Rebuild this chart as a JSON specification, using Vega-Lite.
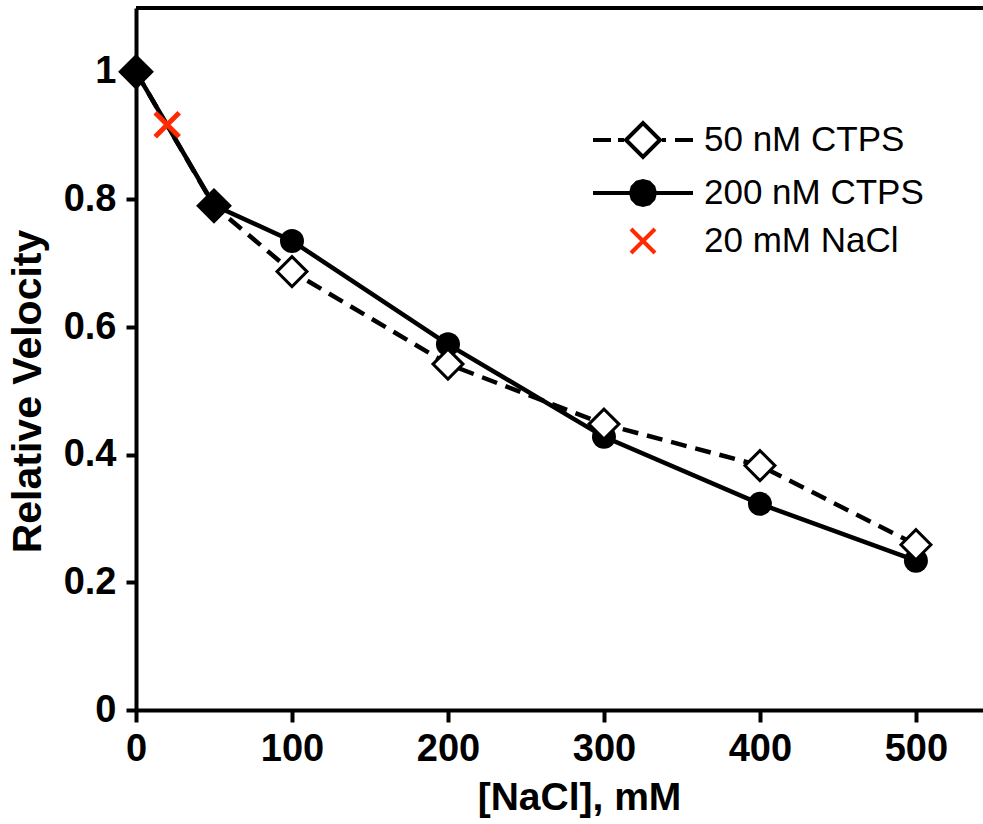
{
  "$schema": "https://vega.github.io/schema/vega-lite/v6.json",
  "width": 847,
  "height": 702,
  "autosize": {"type": "none"},
  "padding": {"left": 136, "top": 8, "right": 0, "bottom": 114},
  "background": "white",
  "config": {
    "view": {"stroke": null},
    "font": "Liberation Sans",
    "axis": {
      "grid": false,
      "domainColor": "black",
      "domainWidth": 4,
      "tickColor": "black",
      "tickWidth": 4,
      "labelFont": "Liberation Sans",
      "labelFontWeight": "bold",
      "labelFontSize": 38,
      "labelColor": "black",
      "titleFont": "Liberation Sans",
      "titleFontWeight": "bold",
      "titleFontSize": 39,
      "titleColor": "black"
    },
    "legend": {
      "orient": "none",
      "legendX": 485,
      "legendY": 110,
      "labelFont": "Liberation Sans",
      "labelFontSize": 35,
      "labelColor": "black",
      "labelLimit": 400,
      "symbolSize": 1600,
      "symbolStrokeWidth": 4,
      "labelOffset": 39,
      "rowPadding": 6
    }
  },
  "data": {
    "values": [
      {"series": "50 nM CTPS", "nacl": 0, "v": 1.0},
      {"series": "50 nM CTPS", "nacl": 50, "v": 0.79},
      {"series": "50 nM CTPS", "nacl": 100, "v": 0.687},
      {"series": "50 nM CTPS", "nacl": 200, "v": 0.542},
      {"series": "50 nM CTPS", "nacl": 300, "v": 0.448},
      {"series": "50 nM CTPS", "nacl": 400, "v": 0.383},
      {"series": "50 nM CTPS", "nacl": 500, "v": 0.259},
      {"series": "200 nM CTPS", "nacl": 0, "v": 1.0},
      {"series": "200 nM CTPS", "nacl": 50, "v": 0.791},
      {"series": "200 nM CTPS", "nacl": 100, "v": 0.735},
      {"series": "200 nM CTPS", "nacl": 200, "v": 0.573},
      {"series": "200 nM CTPS", "nacl": 300, "v": 0.428},
      {"series": "200 nM CTPS", "nacl": 400, "v": 0.323},
      {"series": "200 nM CTPS", "nacl": 500, "v": 0.234},
      {"series": "20 mM NaCl", "nacl": 20, "v": 0.917}
    ]
  },
  "encoding": {
    "x": {
      "field": "nacl", "type": "quantitative",
      "scale": {"domain": [0, 543], "nice": false},
      "axis": {"values": [0, 100, 200, 300, 400, 500], "tickSize": 12, "labelPadding": 8, "titlePadding": 10, "title": "[NaCl], mM", "labelFlush": false, "titleX": 443}
    },
    "y": {
      "field": "v", "type": "quantitative",
      "scale": {"domain": [0, 1.1], "nice": false},
      "axis": {"values": [0, 0.2, 0.4, 0.6, 0.8, 1], "format": ".1~f", "tickSize": 10, "labelPadding": 10, "title": "Relative Velocity", "titleFontSize": 41, "titlePadding": 14, "titleY": 383, "labelFlush": false}
    }
  },
  "layer": [
    {
      "mark": {"type": "rule", "color": "black", "strokeWidth": 4},
      "encoding": {"x": {"datum": 0}, "x2": {"datum": 543}, "y": {"datum": 1.1}}
    },
    {
      "transform": [{"filter": "datum.series == '50 nM CTPS'"}],
      "mark": {"type": "line", "color": "black", "strokeWidth": 4.5, "strokeDash": [16, 9]}
    },
    {
      "transform": [{"filter": "datum.series == '200 nM CTPS'"}],
      "mark": {"type": "line", "color": "black", "strokeWidth": 4.5}
    },
    {
      "transform": [{"filter": "datum.series == '200 nM CTPS' && datum.nacl > 50"}],
      "mark": {"type": "point", "shape": "circle", "filled": true, "color": "black", "size": 576, "opacity": 1}
    },
    {
      "transform": [{"filter": "datum.series == '50 nM CTPS' && datum.nacl > 50"}],
      "mark": {"type": "point", "shape": "diamond", "fill": "white", "stroke": "black", "strokeWidth": 3, "size": 900, "opacity": 1, "fillOpacity": 1}
    },
    {
      "transform": [{"filter": "datum.series == '50 nM CTPS' && datum.nacl <= 50"}],
      "mark": {"type": "point", "shape": "diamond", "fill": "black", "stroke": "black", "strokeWidth": 3, "size": 1000, "opacity": 1, "fillOpacity": 1}
    },
    {
      "transform": [{"filter": "datum.series == '20 mM NaCl'"}],
      "mark": {"type": "point", "shape": "M-1,-1L1,1M-1,1L1,-1", "stroke": "#ff2a00", "strokeWidth": 5, "size": 576, "opacity": 1}
    },
    {
      "mark": {"type": "point", "filled": true, "opacity": 0, "size": 1600},
      "encoding": {
        "shape": {
          "field": "series", "type": "nominal",
          "scale": {
            "domain": ["50 nM CTPS", "200 nM CTPS", "20 mM NaCl"],
            "range": [
              "M-2.5,0H-1.6M-1.25,0H-0.95M-0.85,0L0,-0.85L0.85,0L0,0.85Z M0.95,0H1.15M1.6,0H2.5",
              "M-2.5,0H2.5M0.6,0L0.52,0.3L0.3,0.52L0,0.6L-0.3,0.52L-0.52,0.3L-0.6,0L-0.52,-0.3L-0.3,-0.52L0,-0.6L0.3,-0.52L0.52,-0.3Z",
              "M-0.6,-0.6L0.6,0.6M-0.6,0.6L0.6,-0.6"
            ]
          },
          "legend": {"title": null}
        },
        "color": {
          "field": "series", "type": "nominal",
          "scale": {"domain": ["50 nM CTPS", "200 nM CTPS", "20 mM NaCl"], "range": ["white", "black", "transparent"]},
          "legend": {
            "title": null,
            "encode": {"symbols": {"update": {
              "opacity": {"value": 1},
              "fillOpacity": {"value": 1},
              "strokeOpacity": {"value": 1},
              "size": {"value": 1600}
            }}}
          }
        },
        "stroke": {
          "field": "series", "type": "nominal",
          "scale": {"domain": ["50 nM CTPS", "200 nM CTPS", "20 mM NaCl"], "range": ["black", "black", "#ff2a00"]},
          "legend": {"title": null}
        }
      }
    }
  ]
}
